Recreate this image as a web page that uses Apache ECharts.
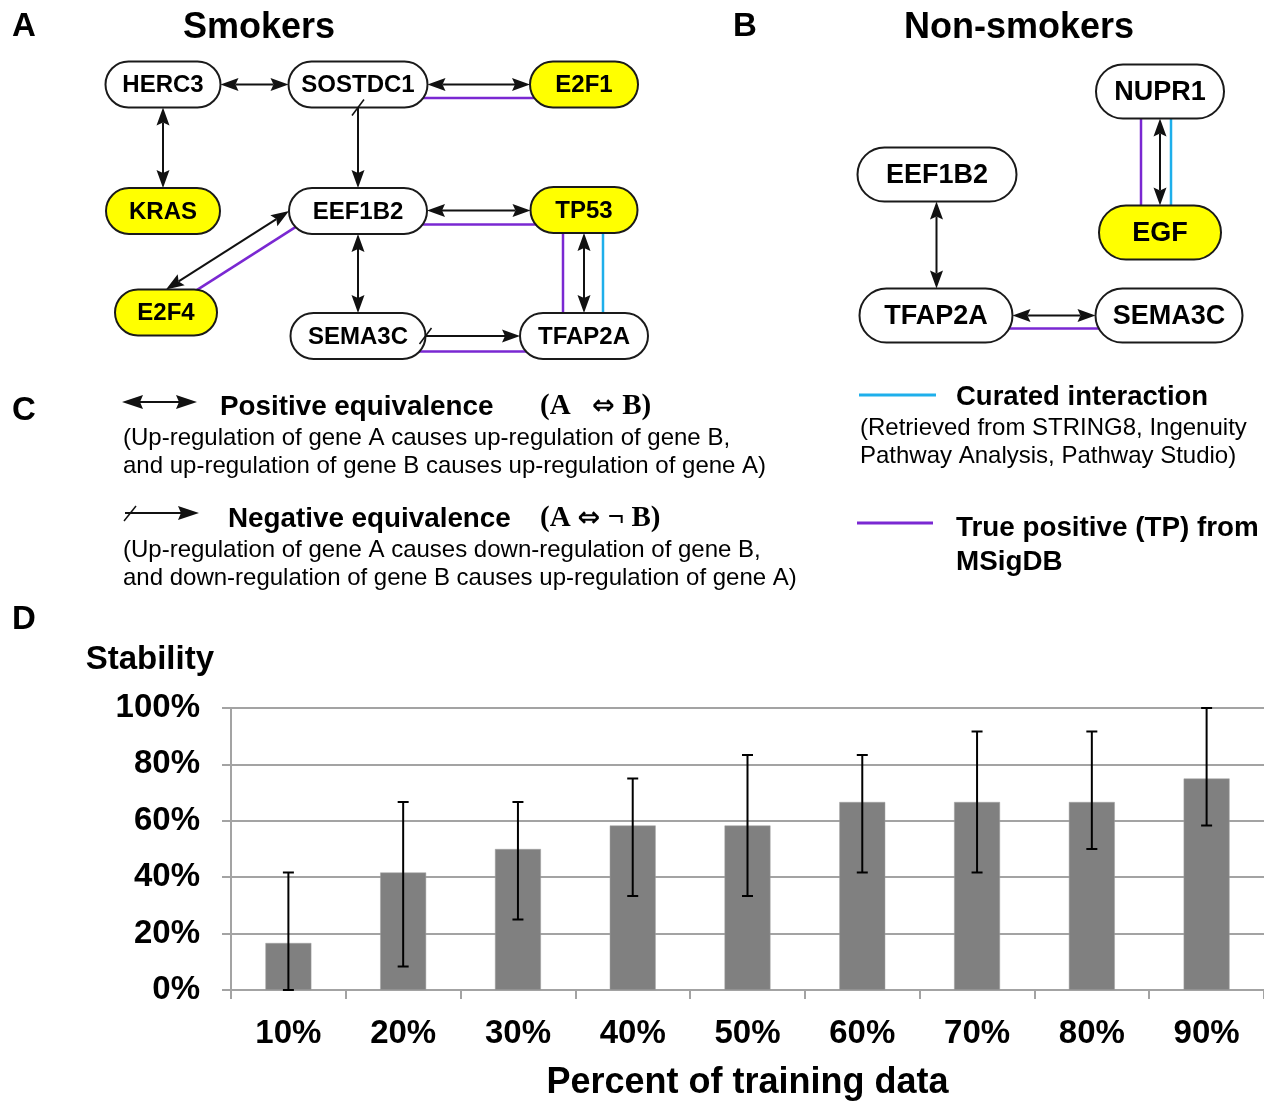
<!DOCTYPE html>
<html>
<head>
<meta charset="utf-8">
<title>Gene equivalence networks and stability</title>
<script src="https://cdn.jsdelivr.net/npm/echarts@6/dist/echarts.min.js"></script>
<style>
  html, body { margin: 0; padding: 0; background: #fff; }
  #main { width: 1264px; height: 1101px; }
</style>
</head>
<body>
<div id="main"></div>
<script>
// Panel A - smokers network
const smokerGenes = ['HERC3', 'SOSTDC1', 'E2F1', 'KRAS', 'EEF1B2', 'TP53', 'E2F4', 'SEMA3C', 'TFAP2A'];
const smokerSeeds = ['E2F1', 'KRAS', 'TP53', 'E2F4'];          // yellow nodes
// [from, to, relation]  pos = positive equivalence, neg = negative equivalence
const smokerLinks = [
    ['HERC3', 'SOSTDC1', 'pos'],
    ['SOSTDC1', 'E2F1', 'pos'],
    ['HERC3', 'KRAS', 'pos'],
    ['SOSTDC1', 'EEF1B2', 'neg'],
    ['EEF1B2', 'TP53', 'pos'],
    ['EEF1B2', 'E2F4', 'pos'],
    ['EEF1B2', 'SEMA3C', 'pos'],
    ['TP53', 'TFAP2A', 'pos'],
    ['SEMA3C', 'TFAP2A', 'neg']
];
const smokerTP = [['SOSTDC1', 'E2F1'], ['EEF1B2', 'TP53'], ['EEF1B2', 'E2F4'], ['TP53', 'TFAP2A'], ['SEMA3C', 'TFAP2A']];
const smokerCurated = [['TP53', 'TFAP2A']];

// Panel B - non-smokers network
const nonSmokerGenes = ['NUPR1', 'EEF1B2', 'EGF', 'TFAP2A', 'SEMA3C'];
const nonSmokerSeeds = ['EGF'];
const nonSmokerLinks = [
    ['NUPR1', 'EGF', 'pos'],
    ['EEF1B2', 'TFAP2A', 'pos'],
    ['TFAP2A', 'SEMA3C', 'pos']
];
const nonSmokerTP = [['NUPR1', 'EGF'], ['TFAP2A', 'SEMA3C']];
const nonSmokerCurated = [['NUPR1', 'EGF']];

// Panel D - stability vs training share
const trainingShare = ['10%', '20%', '30%', '40%', '50%', '60%', '70%', '80%', '90%'];
const stabilityMean = [16.67, 41.67, 50, 58.33, 58.33, 66.67, 66.67, 66.67, 75];
const stabilityLow  = [0, 8.33, 25, 33.33, 33.33, 41.67, 41.67, 50, 58.33];
const stabilityHigh = [41.67, 66.67, 66.67, 75, 83.33, 83.33, 91.67, 91.67, 100];

// ---- layout / style ----
const FONT = '"Liberation Sans", Arial, sans-serif';
const SERIF = '"Liberation Serif", "DejaVu Serif", serif';
const PURPLE = '#7a28d2';
const CYAN = '#1eafeb';
const GRID_GRAY = '#a3a3a3';

// node centre x, centre y, width (px on the hidden layout axes)
const netLayout = {
    A: {
        height: 46, font: 24,
        nodes: {
            HERC3: [163, 84.5, 115], SOSTDC1: [358, 84.5, 139], E2F1: [584, 84.5, 108],
            KRAS: [163, 211, 114], EEF1B2: [358, 211, 138], TP53: [584, 210, 107],
            E2F4: [166, 312.5, 102], SEMA3C: [358, 336, 135], TFAP2A: [584, 336, 128]
        }
    },
    B: {
        height: 54, font: 27,
        nodes: {
            NUPR1: [1160, 91.5, 128], EEF1B2: [937, 174.5, 159], EGF: [1160, 232.5, 122],
            TFAP2A: [936, 315.5, 153], SEMA3C: [1169, 315.5, 147]
        }
    }
};
// offset of the coloured companion lines from the black arrow
const stripeOffsets = {
    'A:SOSTDC1-E2F1': { tp: [0, 13.5] },
    'A:EEF1B2-TP53': { tp: [0, 14] },
    'A:EEF1B2-E2F4': { tp: [9, 14.5] },
    'A:TP53-TFAP2A': { tp: [-21, 0], cur: [19, 0] },
    'A:SEMA3C-TFAP2A': { tp: [0, 15.5] },
    'B:NUPR1-EGF': { tp: [-19, 0], cur: [11, 0] },
    'B:TFAP2A-SEMA3C': { tp: [0, 13] }
};

const panels = [
    { key: 'A', genes: smokerGenes, seeds: smokerSeeds, links: smokerLinks, tp: smokerTP, curated: smokerCurated },
    { key: 'B', genes: nonSmokerGenes, seeds: nonSmokerSeeds, links: nonSmokerLinks, tp: nonSmokerTP, curated: nonSmokerCurated }
];

const hasPair = (list, a, b) => list.some(p => (p[0] === a && p[1] === b) || (p[0] === b && p[1] === a));

// Build node and link records
const nodeRecords = [];
const linkRecords = [];
panels.forEach(p => {
    const lay = netLayout[p.key];
    p.genes.forEach(g => {
        const n = lay.nodes[g];
        nodeRecords.push({ name: g, value: [n[0], n[1]], w: n[2], h: lay.height, font: lay.font, seed: p.seeds.includes(g) });
    });
    p.links.forEach(([a, b, rel]) => {
        const na = lay.nodes[a], nb = lay.nodes[b];
        linkRecords.push({
            value: [na[0], na[1], nb[0], nb[1]],
            fw: na[2], tw: nb[2], h: lay.height,
            rel: rel,
            tp: hasPair(p.tp, a, b),
            curated: hasPair(p.curated, a, b),
            off: stripeOffsets[p.key + ':' + a + '-' + b] || {}
        });
    });
});

// Arrow head (slightly notched triangle)
function arrowHead(tip, u, len, half, notch) {
    const nx = -u[1], ny = u[0];
    const bx = tip[0] - u[0] * len, by = tip[1] - u[1] * len;
    return {
        type: 'polygon',
        shape: { points: [
            [tip[0], tip[1]],
            [bx + nx * half, by + ny * half],
            [tip[0] - u[0] * (len - notch), tip[1] - u[1] * (len - notch)],
            [bx - nx * half, by - ny * half]
        ] },
        style: { fill: '#111' }
    };
}

// End points of the black arrow, on the node outlines
function linkEnds(e, api) {
    const a = api.coord([api.value(0), api.value(1)]);
    const b = api.coord([api.value(2), api.value(3)]);
    const dx = b[0] - a[0], dy = b[1] - a[1];
    let pa, pb;
    if (Math.abs(dy) < 30) {
        const s = Math.sign(dx), y = (a[1] + b[1]) / 2;
        pa = [a[0] + s * e.fw / 2, y];
        pb = [b[0] - s * e.tw / 2, y];
    } else if (Math.abs(dx) < 30) {
        const s = Math.sign(dy), x = (a[0] + b[0]) / 2;
        pa = [x, a[1] + s * e.h / 2];
        pb = [x, b[1] - s * e.h / 2];
    } else {
        pa = [a[0] + Math.sign(dx) * e.fw / 2, a[1]];
        pb = [b[0], b[1] - Math.sign(dy) * e.h / 2];
    }
    const len = Math.hypot(pb[0] - pa[0], pb[1] - pa[1]);
    const u = [(pb[0] - pa[0]) / len, (pb[1] - pa[1]) / len];
    return { pa: pa, pb: pb, u: u };
}

function renderLink(params, api) {
    const e = linkRecords[params.dataIndex];
    const { pa, pb, u } = linkEnds(e, api);
    const children = [];
    const ext = 10;
    [['tp', PURPLE], ['curated', CYAN]].forEach(([flag, color]) => {
        if (!e[flag]) return;
        const o = flag === 'tp' ? e.off.tp : e.off.cur;
        if (!o) return;
        children.push({
            type: 'line',
            shape: {
                x1: pa[0] + o[0] - u[0] * ext, y1: pa[1] + o[1] - u[1] * ext,
                x2: pb[0] + o[0] + u[0] * ext, y2: pb[1] + o[1] + u[1] * ext
            },
            style: { stroke: color, lineWidth: 2.5 }
        });
    });
    const L = 18, H = 6.5, N = 3;
    const startCut = e.rel === 'pos' ? L - N : 0;
    children.push({
        type: 'line',
        shape: {
            x1: pa[0] + u[0] * startCut, y1: pa[1] + u[1] * startCut,
            x2: pb[0] - u[0] * (L - N), y2: pb[1] - u[1] * (L - N)
        },
        style: { stroke: '#111', lineWidth: 2 }
    });
    children.push(arrowHead(pb, u, L, H, N));
    if (e.rel === 'pos') {
        children.push(arrowHead(pa, [-u[0], -u[1]], L, H, N));
    }
    return { type: 'group', children: children };
}

// negative equivalence: slash at the source end, drawn above the nodes
function renderSlash(params, api) {
    const e = linkRecords[params.dataIndex];
    if (e.rel !== 'neg') return { type: 'group', children: [] };
    const { pa } = linkEnds(e, api);
    const sd = [0.6, -0.8], sl = 10;
    return {
        type: 'line',
        shape: { x1: pa[0] - sd[0] * sl, y1: pa[1] - sd[1] * sl, x2: pa[0] + sd[0] * sl, y2: pa[1] + sd[1] * sl },
        style: { stroke: '#111', lineWidth: 1.5 }
    };
}

function renderGene(params, api) {
    const n = nodeRecords[params.dataIndex];
    const c = api.coord([api.value(0), api.value(1)]);
    return {
        type: 'group',
        children: [
            {
                type: 'rect',
                shape: { x: c[0] - n.w / 2, y: c[1] - n.h / 2, width: n.w, height: n.h, r: n.h / 2 },
                style: { fill: n.seed ? '#ffff00' : '#ffffff', stroke: '#1a1a1a', lineWidth: 2 }
            },
            {
                type: 'text',
                style: {
                    text: n.name, x: c[0], y: c[1] + 1,
                    align: 'center', verticalAlign: 'middle',
                    textAlign: 'center', textVerticalAlign: 'middle',
                    font: 'bold ' + n.font + 'px ' + FONT, fill: '#000'
                }
            }
        ]
    };
}

function renderErrorBar(params, api) {
    const x = api.value(0);
    const lo = api.coord([x, api.value(1)]);
    const hi = api.coord([x, api.value(2)]);
    const cap = 5.5;
    const style = { stroke: '#000', lineWidth: 2 };
    return {
        type: 'group',
        children: [
            { type: 'line', shape: { x1: lo[0], y1: lo[1], x2: hi[0], y2: hi[1] }, style: style },
            { type: 'line', shape: { x1: hi[0] - cap, y1: hi[1], x2: hi[0] + cap, y2: hi[1] }, style: style },
            { type: 'line', shape: { x1: lo[0] - cap, y1: lo[1], x2: lo[0] + cap, y2: lo[1] }, style: style }
        ]
    };
}

// ---- static annotations (panel letters, titles, legend C) ----
function label(text, x, y, size, weight, family) {
    return {
        type: 'text', x: x, y: y,
        style: {
            text: text, font: weight + ' ' + size + 'px ' + (family || FONT), fill: '#000',
            align: 'left', verticalAlign: 'middle', textAlign: 'left', textVerticalAlign: 'middle'
        }
    };
}
// logic formula with a full size double arrow
function formula(text, x, y) {
    return {
        type: 'text', x: x, y: y,
        style: {
            text: text,
            rich: {
                s: { font: 'bold 29px ' + SERIF, fill: '#000' },
                a: { font: 'bold 27px "DejaVu Sans", sans-serif', fill: '#000' }
            },
            align: 'left', verticalAlign: 'middle', textAlign: 'left', textVerticalAlign: 'middle'
        }
    };
}

const graphics = [
    label('A', 12, 27, 33, 'bold'),
    label('Smokers', 183, 28, 36, 'bold'),
    label('B', 733, 27, 33, 'bold'),
    label('Non-smokers', 904, 28, 36, 'bold'),
    label('C', 12, 411, 33, 'bold'),
    label('D', 12, 620, 33, 'bold'),

    // positive equivalence
    { type: 'line', shape: { x1: 135, y1: 402, x2: 185, y2: 402 }, style: { stroke: '#111', lineWidth: 2 } },
    arrowHead([122, 402], [-1, 0], 21, 7, 3),
    arrowHead([197, 402], [1, 0], 21, 7, 3),
    label('Positive equivalence', 220, 407, 27.8, 'bold'),
    formula('{s|(A   }{a|\u21D4}{s| B)}', 540, 407),
    label('(Up-regulation of gene A causes up-regulation of gene B,', 123, 438, 24, 'normal'),
    label('and up-regulation of gene B causes up-regulation of gene A)', 123, 466, 24, 'normal'),

    // negative equivalence
    { type: 'line', shape: { x1: 125, y1: 513, x2: 185, y2: 513 }, style: { stroke: '#111', lineWidth: 2 } },
    arrowHead([199, 513], [1, 0], 21, 7, 3),
    { type: 'line', shape: { x1: 124, y1: 521, x2: 136, y2: 506 }, style: { stroke: '#111', lineWidth: 1.5 } },
    label('Negative equivalence', 228, 519, 27.8, 'bold'),
    formula('{s|(A }{a|\u21D4}{s| \u00AC B)}', 540, 519),
    label('(Up-regulation of gene A causes down-regulation of gene B,', 123, 550, 24, 'normal'),
    label('and down-regulation of gene B causes up-regulation of gene A)', 123, 578, 24, 'normal'),

    // curated / true positive
    { type: 'line', shape: { x1: 859, y1: 395, x2: 936, y2: 395 }, style: { stroke: CYAN, lineWidth: 3 } },
    label('Curated interaction', 956, 397, 27.5, 'bold'),
    label('(Retrieved from STRING8, Ingenuity', 860, 428, 24, 'normal'),
    label('Pathway Analysis, Pathway Studio)', 860, 456, 24, 'normal'),
    { type: 'line', shape: { x1: 857, y1: 523, x2: 933, y2: 523 }, style: { stroke: PURPLE, lineWidth: 3 } },
    label('True positive (TP) from', 956, 528, 27.8, 'bold'),
    label('MSigDB', 956, 562, 27.8, 'bold')
];

const chart = echarts.init(document.getElementById('main'));

const option = {
    animation: false,
    backgroundColor: '#fff',
    grid: [
        { left: 231, top: 708, right: 0, bottom: 111, outerBoundsMode: 'none' },
        { left: 0, top: 0, width: 1264, height: 1101, outerBoundsMode: 'none' }
    ],
    xAxis: [
        {
            type: 'category',
            gridIndex: 0,
            data: trainingShare,
            axisLine: { lineStyle: { color: GRID_GRAY, width: 2 } },
            axisTick: { show: true, length: 9, lineStyle: { color: GRID_GRAY, width: 2 } },
            axisLabel: { interval: 0, margin: 27, color: '#000', fontSize: 33, fontWeight: 'bold', fontFamily: FONT },
            name: 'Percent of training data',
            nameLocation: 'middle',
            nameGap: 75,
            nameTextStyle: { color: '#000', fontSize: 36, fontWeight: 'bold', fontFamily: FONT }
        },
        { type: 'value', gridIndex: 1, min: 0, max: 1264, show: false }
    ],
    yAxis: [
        {
            type: 'value',
            gridIndex: 0,
            min: 0, max: 100, interval: 20,
            axisLine: { show: true, lineStyle: { color: GRID_GRAY, width: 2 } },
            axisTick: { show: true, length: 9, lineStyle: { color: GRID_GRAY, width: 2 } },
            axisLabel: {
                formatter: '{value}%', margin: 31, color: '#000', fontSize: 33, fontWeight: 'bold', fontFamily: FONT,
                padding: [4, 0, 0, 0]
            },
            splitLine: { show: true, lineStyle: { color: GRID_GRAY, width: 2 } },
            name: 'Stability',
            nameLocation: 'end',
            nameGap: 48,
            nameTextStyle: {
                color: '#000', fontSize: 33, fontWeight: 'bold', fontFamily: FONT,
                align: 'right', verticalAlign: 'middle', padding: [0, 17, 0, 0]
            }
        },
        { type: 'value', gridIndex: 1, min: 0, max: 1101, inverse: true, show: false }
    ],
    graphic: graphics,
    series: [
        {
            name: 'Stability',
            type: 'bar',
            xAxisIndex: 0, yAxisIndex: 0,
            data: stabilityMean,
            barWidth: '40%',
            itemStyle: { color: '#808080', borderColor: '#a0a0a0', borderWidth: 0.5 },
            z: 2
        },
        {
            name: 'Range',
            type: 'custom',
            xAxisIndex: 0, yAxisIndex: 0,
            data: trainingShare.map((c, i) => [i, stabilityLow[i], stabilityHigh[i]]),
            encode: { x: 0, y: [1, 2] },
            renderItem: renderErrorBar,
            z: 3
        },
        {
            name: 'Links',
            type: 'custom',
            xAxisIndex: 1, yAxisIndex: 1,
            data: linkRecords.map(e => e.value),
            encode: { x: [0, 2], y: [1, 3] },
            renderItem: renderLink,
            z: 4
        },
        {
            name: 'Genes',
            type: 'custom',
            xAxisIndex: 1, yAxisIndex: 1,
            data: nodeRecords.map(n => n.value),
            encode: { x: 0, y: 1 },
            renderItem: renderGene,
            z: 5
        },
        {
            name: 'Negative marks',
            type: 'custom',
            xAxisIndex: 1, yAxisIndex: 1,
            data: linkRecords.map(e => e.value),
            encode: { x: [0, 2], y: [1, 3] },
            renderItem: renderSlash,
            z: 6
        }
    ]
};

chart.setOption(option);
window.addEventListener('resize', () => chart.resize());
</script>
</body>
</html>
